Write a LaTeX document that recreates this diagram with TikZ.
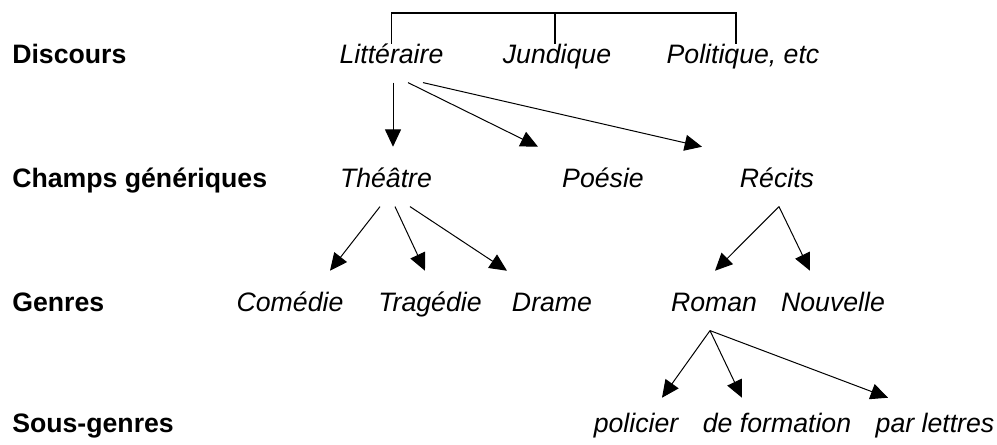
\documentclass[tikz,border=0pt]{standalone}
\usepackage{fontspec}
\setmainfont{Liberation Sans}
\usetikzlibrary{arrows.meta}

\begin{document}
\begin{tikzpicture}[x=0.75pt,y=-0.75pt,
        fl/.style={-{Triangle[length=13pt,width=12pt]},line width=0.75pt}]
        \path[use as bounding box] (0,0) rectangle (997,444);
        \coordinate (bar) at (0,13);
        \begin{scope}[every node/.style={anchor=base west,inner sep=0pt,font=\fontsize{20}{24}\selectfont\bfseries}]
            \node (niv0) at (12, 63) {Discours};
            \node (niv1) at (12, 187) {Champs génériques};
            \node (niv2) at (12, 311) {Genres};
            \node (niv3) at (12, 432) {Sous-genres};
        \end{scope}
        \begin{scope}[every node/.style={anchor=base,inner sep=0pt,font=\fontsize{20}{24}\selectfont\itshape,text height=30pt,text depth=14.5pt}]
            \node (lit) [text height=14.25pt] at (391.5, 63) {Littéraire};
            \node (jur) [text height=14.25pt] at (557, 63) {Jundique};
            \node (polit) [text height=14.25pt] at (743, 63) {Politique, etc};
            \node (thea) at (386, 187) {Théâtre};
            \node (poe) at (603, 187) {Poésie};
            \node (rec) at (777, 187) {Récits};
            \node (com) at (290, 311) {Comédie};
            \node (tra) at (430, 311) {Tragédie};
            \node (dra) at (552, 311) {Drame};
            \node (rom) at (714, 311) {Roman};
            \node (nou) at (833, 311) {Nouvelle};
            \node (polic) [text height=25.5pt] at (636, 432) {policier};
            \node (form) [text height=25.5pt] at (777, 432) {de formation};
            \node (lett) [text height=25.5pt] at (935, 432) {par lettres};
        \end{scope}
        \draw[line width=0.9pt] (lit.north) -- (lit.north |- bar) -- ([shift={(-7,0)}]polit.north |- bar) -- ([shift={(-7,0)}]polit.north);
        \draw[line width=0.9pt] ([shift={(-2,0)}]jur.north) -- ([shift={(-2,0)}]jur.north |- bar);
        \path [fl] ([shift={(1.5,0)}]lit.south) edge[draw=black] ([shift={(7,0)}]thea.north);
        \path [fl] ([shift={(16.5,0)}]lit.south) edge[draw=black] ([shift={(-65,0)}]poe.north);
        \path [fl] ([shift={(31.5,0)}]lit.south) edge[draw=black] ([shift={(-75,0)}]rec.north);
        \path [fl] ([shift={(-6,0)}]thea.south) edge[draw=black] ([shift={(40,0)}]com.north);
        \path [fl] ([shift={(9,0)}]thea.south) edge[draw=black] ([shift={(-5,0)}]tra.north);
        \path [fl] ([shift={(24,0)}]thea.south) edge[draw=black] ([shift={(-45,0)}]dra.north);
        \path [fl] ([shift={(2,0)}]rec.south) edge[draw=black] ([shift={(1,0)}]rom.north);
        \path [fl] ([shift={(2,0)}]rec.south) edge[draw=black] ([shift={(-23,0)}]nou.north);
        \path [fl] ([shift={(-4,0)}]rom.south) edge[draw=black] ([shift={(26,0)}]polic.north);
        \path [fl] ([shift={(-4,0)}]rom.south) edge[draw=black] ([shift={(-35,0)}]form.north);
        \path [fl] ([shift={(-4,0)}]rom.south) edge[draw=black] ([shift={(-47,0)}]lett.north);
    \end{tikzpicture}
\end{document}
